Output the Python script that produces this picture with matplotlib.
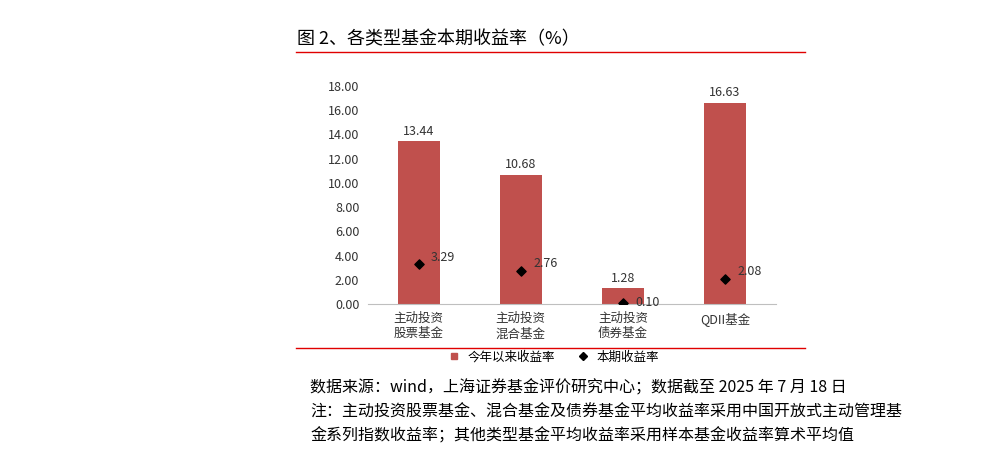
import matplotlib
matplotlib.use("Agg")
import matplotlib.pyplot as plt
from matplotlib.lines import Line2D

plt.rcParams['font.family'] = ['Noto Sans CJK SC', 'DejaVu Sans']

categories = ["主动投资\n股票基金", "主动投资\n混合基金", "主动投资\n债券基金", "QDII基金"]
ytd_returns = [13.44, 10.68, 1.28, 16.63]
period_returns = [3.29, 2.76, 0.10, 2.08]
yticks = [0, 2, 4, 6, 8, 10, 12, 14, 16, 18]

fig = plt.figure(figsize=(9.91, 4.49), dpi=100)
ax = fig.add_axes([0.371, 0.323, 0.412, 0.4855])
x = list(range(len(categories)))
ax.bar(x, ytd_returns, width=0.41, color="#C0504D", zorder=2)
ax.scatter(x, period_returns, marker="D", s=22, color="black", zorder=3)
for xi, v in zip(x, ytd_returns):
    ax.text(xi, v + 0.3, f"{v:.2f}", ha="center", va="bottom", fontsize=9, color="#333333")
for xi, v in zip(x, period_returns):
    ax.text(xi + 0.12, v + 0.05, f"{v:.2f}", ha="left", va="bottom" if v > 1 else "center", fontsize=9, color="#333333")
ax.set_xlim(-0.5, 3.5)
ax.set_ylim(0, 18)
ax.set_yticks(yticks)
ax.set_yticklabels([f"{t:.2f}" for t in yticks], fontsize=9, color="#333333")
ax.set_xticks(x)
ax.set_xticklabels(categories, fontsize=9, color="#333333")
for s in ["top", "right", "left"]:
    ax.spines[s].set_visible(False)
ax.spines["bottom"].set_color("#BFBFBF")
ax.tick_params(length=0, pad=6)

handles = [Line2D([], [], marker="s", color="#C0504D", linestyle="none", markersize=5),
           Line2D([], [], marker="D", color="black", linestyle="none", markersize=4)]
fig.legend(handles, ["今年以来收益率", "本期收益率"], loc="center", bbox_to_anchor=(0.555, 0.205),
           ncol=2, frameon=False, fontsize=9, handletextpad=0.1, columnspacing=1.2)

fig.text(0.300, 0.912, "图 2、各类型基金本期收益率（%）", fontsize=13, ha="left", va="center")
fig.add_artist(Line2D([0.299, 0.812], [0.884, 0.884], color="#E00000", lw=1))
fig.add_artist(Line2D([0.299, 0.812], [0.225, 0.225], color="#E00000", lw=1))
fig.text(0.313, 0.135, "数据来源：wind，上海证券基金评价研究中心；数据截至 2025 年 7 月 18 日", fontsize=11.5, ha="left", va="center")
fig.text(0.313, 0.082, "注：主动投资股票基金、混合基金及债券基金平均收益率采用中国开放式主动管理基", fontsize=11.5, ha="left", va="center")
fig.text(0.313, 0.029, "金系列指数收益率；其他类型基金平均收益率采用样本基金收益率算术平均值", fontsize=11.5, ha="left", va="center")

fig.savefig("out.png", dpi=100)
